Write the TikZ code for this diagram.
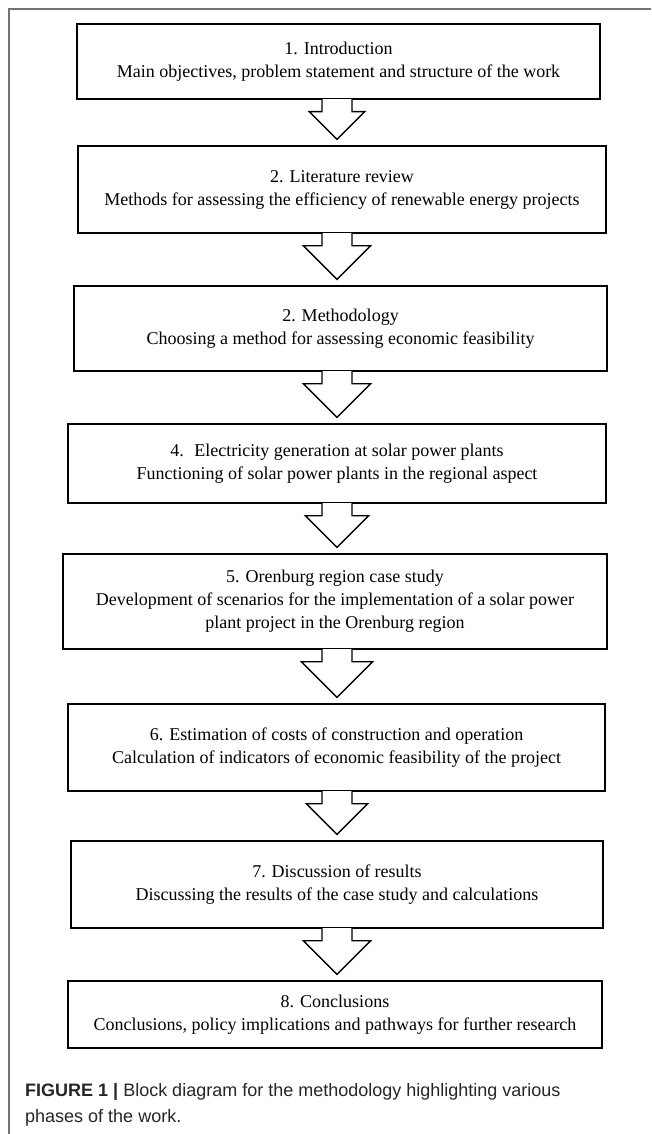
\documentclass[tikz,border=0pt]{standalone}
\usepackage{fontspec}
\setmainfont{Liberation Serif}
\newfontfamily\capfont{Liberation Sans}
\usetikzlibrary{calc,positioning}

\begin{document}
\begin{tikzpicture}[x=1pt,y=1pt,
      phase/.style={draw, line width=1.3pt, align=center, inner sep=0pt,
         font=\fontsize{18}{23}\selectfont},
      phasearrow/.style={draw, line width=1.3pt, fill=white, line join=miter}]
      \useasboundingbox (0,0) rectangle (651,-1134);
      \draw[black!55, line width=1.2pt] (9,-1134) -- (9,-9) -- (651,-9);
      \coordinate (spine) at (337,0);
      \node [phase, minimum width=523pt, minimum height=75pt] (p1) at (338.5,-61.5)
         {1. Introduction\\Main objectives, problem statement and structure of the work};
      \node [phase, minimum width=528pt, minimum height=87pt] (p2) at (342,-189.5)
         {2. Literature review\\Methods for assessing the efficiency of renewable energy projects};
      \node [phase, minimum width=533pt, minimum height=85pt] (p3) at (340.5,-328.5)
         {2. Methodology\\Choosing a method for assessing economic feasibility};
      \node [phase, minimum width=538pt, minimum height=79pt] (p4) at (337,-463.5)
         {4.~ Electricity generation at solar power plants\\Functioning of solar power plants in the regional aspect};
      \node [phase, minimum width=544pt, minimum height=95pt] (p5) at (335,-601.5)
         {5. Orenburg region case study\\Development of scenarios for the implementation of a solar power\\plant project in the Orenburg region};
      \node [phase, minimum width=537pt, minimum height=87pt] (p6) at (336.5,-747.5)
         {6. Estimation of costs of construction and operation\\Calculation of indicators of economic feasibility of the project};
      \node [phase, minimum width=532pt, minimum height=87pt] (p7) at (337,-884.5)
         {7. Discussion of results\\Discussing the results of the case study and calculations};
      \node [phase, minimum width=534pt, minimum height=67pt] (p8) at (335,-1014.5)
         {8. Conclusions\\Conclusions, policy implications and pathways for further research};
      \foreach \a/\b in {p1/p2,p2/p3,p3/p4,p4/p5,p5/p6,p6/p7,p7/p8}
         \draw[phasearrow] let \p1=(\a.south -| spine), \p2=(\b.north),
            \n1={\y1-\y2-18pt} in
            (\x1-15pt,\y1+0.6pt) -- (\x1-15pt,\y1-12pt) -- (\x1-\n1,\y1-12pt)
            -- (\x1,\y2+6pt) -- (\x1+\n1,\y1-12pt) -- (\x1+15pt,\y1-12pt) -- (\x1+15pt,\y1+0.6pt);
      \node [anchor=north west, align=left, inner sep=0pt, text=black!85,
         font=\capfont\fontsize{18}{26}\selectfont] (cap) at (25,-1083)
         {\textbf{FIGURE 1 |} Block diagram for the methodology highlighting various\\phases of the work.};
   \end{tikzpicture}
\end{document}
